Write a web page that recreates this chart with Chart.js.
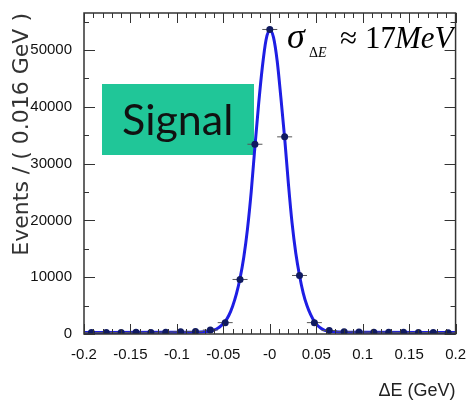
<!DOCTYPE html>
<html>
<head>
<meta charset="utf-8">
<script src="https://cdn.jsdelivr.net/npm/chart.js@4.4.1/dist/chart.umd.min.js"></script>
<style>
  html, body { margin: 0; padding: 0; background: #fff; }
  #wrap { width: 470px; height: 402px; }
</style>
</head>
<body>
<div id="wrap"><canvas id="chart" width="470" height="402"></canvas></div>
<script>
// bin centres (GeV) and event counts
const binCenters = [-0.192, -0.176, -0.16, -0.144, -0.128, -0.112, -0.096, -0.08, -0.064, -0.048, -0.032, -0.016,
                    0, 0.016, 0.032, 0.048, 0.064, 0.08, 0.096, 0.112, 0.128, 0.144, 0.16, 0.176, 0.192];
const eventCounts = [250, 280, 260, 300, 280, 330, 380, 420, 700, 2000, 9600, 33400,
                     53600, 34700, 10300, 2000, 600, 400, 350, 320, 300, 290, 270, 260, 240];

// fitted curve
const fitX = [-0.2, -0.1, -0.07, -0.06, -0.056, -0.052, -0.048, -0.044, -0.04, -0.036, -0.032, -0.028, -0.024, -0.02,
              -0.016, -0.012, -0.008, -0.004, 0, 0.004, 0.008, 0.012, 0.016, 0.02, 0.024, 0.028, 0.032, 0.036,
              0.04, 0.044, 0.048, 0.052, 0.056, 0.06, 0.07, 0.1, 0.2];
const fitY = [250, 300, 400, 700, 1000, 1500, 2200, 3300, 4900, 7000, 9800, 13500, 18500, 25000,
              33000, 40500, 47000, 51800, 53500, 52200, 48000, 41500, 34500, 26500, 19500, 14200, 10300, 7200,
              5000, 3400, 2200, 1400, 900, 600, 400, 300, 250];

const xTickValues = [-0.2, -0.15, -0.1, -0.05, 0, 0.05, 0.1, 0.15, 0.2];
const xTickLabels = ['-0.2', '-0.15', '-0.1', '-0.05', '-0', '0.05', '0.1', '0.15', '0.2'];
const yTickValues = [0, 10000, 20000, 30000, 40000, 50000];

const points = binCenters.map((x, i) => ({ x: x, y: eventCounts[i] }));
const fitLine = fitX.map((x, i) => ({ x: x, y: fitY[i] }));

// box, sigma label, frame and inward ticks (ROOT style)
const decor = {
    id: 'decor',
    beforeDatasetsDraw(chart) {
        const ctx = chart.ctx;
        ctx.save();
        ctx.fillStyle = 'rgb(32,198,152)';
        ctx.fillRect(102, 84, 152, 71);
        ctx.fillStyle = '#111';
        ctx.font = '43px Lato';
        ctx.textBaseline = 'alphabetic';
        ctx.fillText('Signal', 122, 135);
        ctx.restore();
    },
    afterDraw(chart) {
        const ctx = chart.ctx;
        const a = chart.chartArea;
        const xs = chart.scales.x, ys = chart.scales.y;

        // sigma annotation
        ctx.save();
        ctx.beginPath();
        ctx.rect(0, 0, a.right, a.bottom);
        ctx.clip();
        ctx.fillStyle = '#000';
        ctx.textBaseline = 'alphabetic';
        ctx.font = 'italic 36px "Liberation Serif"';
        ctx.fillText('\u03C3', 287, 48);
        ctx.font = '14px "Liberation Serif"';
        ctx.fillText('\u0394', 309, 57);
        ctx.font = 'italic 14px "Liberation Serif"';
        ctx.fillText('E', 318, 57);
        ctx.font = '31px "Liberation Serif"';
        ctx.fillText('\u2248', 340, 48);
        ctx.fillText('17', 365, 48);
        ctx.font = 'italic 31px "Liberation Serif"';
        ctx.fillText('MeV', 395, 48);
        ctx.restore();

        ctx.save();
        ctx.strokeStyle = '#333';
        ctx.lineWidth = 1.5;
        ctx.strokeRect(a.left, a.top, a.right - a.left, a.bottom - a.top);

        ctx.beginPath();
        for (let v = -0.2; v <= 0.2001; v += 0.01) {
            const px = Math.round(xs.getPixelForValue(v)) + 0.5;
            const major = Math.abs(v / 0.05 - Math.round(v / 0.05)) < 1e-6;
            const len = major ? 10 : 5;
            ctx.moveTo(px, a.bottom); ctx.lineTo(px, a.bottom - len);
            ctx.moveTo(px, a.top); ctx.lineTo(px, a.top + len);
        }
        for (let v = 0; v <= 55000; v += 5000) {
            const py = Math.round(ys.getPixelForValue(v)) + 0.5;
            const len = v % 10000 === 0 ? 11 : 5;
            ctx.moveTo(a.left, py); ctx.lineTo(a.left + len, py);
            ctx.moveTo(a.right, py); ctx.lineTo(a.right - len, py);
        }
        ctx.lineWidth = 1;
        ctx.stroke();
        ctx.restore();
    }
};

new Chart(document.getElementById('chart'), {
    type: 'scatter',
    data: {
        datasets: [
            {
                data: points,
                pointRadius: 3.5,
                pointBackgroundColor: '#101a60',
                pointBorderWidth: 0,
                order: 0
            },
            {
                data: points,
                pointStyle: 'line',
                pointRadius: 7.5,
                pointBorderColor: '#555',
                pointBorderWidth: 1,
                order: 1
            },
            {
                data: fitLine,
                showLine: true,
                pointRadius: 0,
                borderColor: 'rgb(30,30,228)',
                borderWidth: 3,
                cubicInterpolationMode: 'monotone',
                order: 2
            }
        ]
    },
    options: {
        responsive: false,
        animation: false,
        layout: { padding: { top: 8, right: 10, left: 0, bottom: 0 } },
        plugins: { legend: { display: false }, tooltip: { enabled: false } },
        scales: {
            x: {
                type: 'linear',
                min: -0.2,
                max: 0.2,
                afterBuildTicks: (s) => { s.ticks = xTickValues.map(v => ({ value: v })); },
                afterFit: (s) => { s.height = 68; },
                grid: { display: false },
                border: { display: false },
                ticks: {
                    padding: 4,
                    maxRotation: 0,
                    autoSkip: false,
                    color: '#111',
                    font: { family: 'Liberation Sans', size: 15 },
                    callback: (v) => xTickLabels[xTickValues.findIndex(t => Math.abs(t - v) < 1e-9)]
                },
                title: {
                    display: true,
                    text: '\u0394E (GeV)',
                    align: 'end',
                    color: '#222',
                    padding: { top: 1, bottom: 0 },
                    font: { family: 'Liberation Sans', size: 18 }
                }
            },
            y: {
                type: 'linear',
                min: 0,
                max: 56500,
                afterBuildTicks: (s) => { s.ticks = yTickValues.map(v => ({ value: v })); },
                afterFit: (s) => { s.width = 84; },
                grid: { display: false },
                border: { display: false },
                ticks: {
                    padding: 4,
                    color: '#111',
                    font: { family: 'Liberation Sans', size: 15 },
                    callback: (v) => String(v)
                },
                title: {
                    display: true,
                    text: 'Events / ( 0.016 GeV )',
                    align: 'end',
                    color: '#333',
                    padding: { top: 9, bottom: 0 },
                    font: { family: 'DejaVu Sans', size: 22 }
                }
            }
        }
    },
    plugins: [decor]
});
</script>
</body>
</html>
